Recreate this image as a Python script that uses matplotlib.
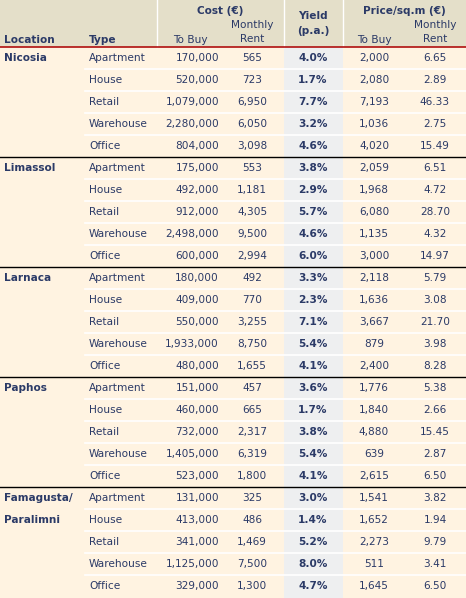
import matplotlib.pyplot as plt
from matplotlib.patches import Rectangle

locations = ['Nicosia', 'Limassol', 'Larnaca', 'Paphos', 'Famagusta/\nParalimni']
types = ['Apartment', 'House', 'Retail', 'Warehouse', 'Office']
cost_buy = [170000, 520000, 1079000, 2280000, 804000,
            175000, 492000, 912000, 2498000, 600000,
            180000, 409000, 550000, 1933000, 480000,
            151000, 460000, 732000, 1405000, 523000,
            131000, 413000, 341000, 1125000, 329000]
cost_rent = [565, 723, 6950, 6050, 3098,
             553, 1181, 4305, 9500, 2994,
             492, 770, 3255, 8750, 1655,
             457, 665, 2317, 6319, 1800,
             325, 486, 1469, 7500, 1300]
yields = [4.0, 1.7, 7.7, 3.2, 4.6,
          3.8, 2.9, 5.7, 4.6, 6.0,
          3.3, 2.3, 7.1, 5.4, 4.1,
          3.6, 1.7, 3.8, 5.4, 4.1,
          3.0, 1.4, 5.2, 8.0, 4.7]
sqm_buy = [2000, 2080, 7193, 1036, 4020,
           2059, 1968, 6080, 1135, 3000,
           2118, 1636, 3667, 879, 2400,
           1776, 1840, 4880, 639, 2615,
           1541, 1652, 2273, 511, 1645]
sqm_rent = [6.65, 2.89, 46.33, 2.75, 15.49,
            6.51, 4.72, 28.70, 4.32, 14.97,
            5.79, 3.08, 21.70, 3.98, 8.28,
            5.38, 2.66, 15.45, 2.87, 6.50,
            3.82, 1.94, 9.79, 3.41, 6.50]

W, H = 466, 598
HEAD = 47
ROW = 22
TXT = '#2b3a67'
FS = 7.6

fig = plt.figure(figsize=(W / 100, H / 100), dpi=100)
ax = fig.add_axes([0, 0, 1, 1])
ax.set_xlim(0, W)
ax.set_ylim(H, 0)
ax.axis('off')

ax.add_patch(Rectangle((0, 0), W, HEAD, color='#e4dfc9', lw=0))
ax.add_patch(Rectangle((0, HEAD), W, H - HEAD, color='#fff3e1', lw=0))
ax.add_patch(Rectangle((284, HEAD), 59, H - HEAD, color='#eeeff0', lw=0))
for x in [157, 284, 343]:
    ax.plot([x, x], [0, HEAD], color='white', lw=1)

kw = dict(color=TXT, fontsize=FS, fontfamily='DejaVu Sans')
ax.text(4, 40, 'Location', fontweight='bold', va='center', **kw)
ax.text(89, 40, 'Type', fontweight='bold', va='center', **kw)
ax.text(220, 11, 'Cost (€)', fontweight='bold', ha='center', va='center', **kw)
ax.text(190, 40, 'To Buy', ha='center', va='center', **kw)
ax.text(252, 25, 'Monthly', ha='center', va='center', **kw)
ax.text(252, 39, 'Rent', ha='center', va='center', **kw)
ax.text(313, 16, 'Yield', fontweight='bold', ha='center', va='center', **kw)
ax.text(313, 31, '(p.a.)', fontweight='bold', ha='center', va='center', **kw)
ax.text(404, 11, 'Price/sq.m (€)', fontweight='bold', ha='center', va='center', **kw)
ax.text(374, 40, 'To Buy', ha='center', va='center', **kw)
ax.text(435, 25, 'Monthly', ha='center', va='center', **kw)
ax.text(435, 39, 'Rent', ha='center', va='center', **kw)

for i in range(len(cost_buy)):
    y0 = HEAD + i * ROW
    yc = y0 + ROW / 2
    if i % 5 == 0:
        loc = locations[i // 5]
        if '\n' in loc:
            a, b = loc.split('\n')
            ax.text(4, yc, a, fontweight='bold', va='center', **kw)
            ax.text(4, yc + ROW, b, fontweight='bold', va='center', **kw)
        else:
            ax.text(4, yc, loc, fontweight='bold', va='center', **kw)
        if i > 0:
            ax.plot([0, W], [y0, y0], color='black', lw=1)
    else:
        ax.plot([85, W], [y0, y0], color='white', lw=1.2)
    ax.text(89, yc, types[i % 5], va='center', **kw)
    ax.text(219, yc, f'{cost_buy[i]:,}', ha='right', va='center', **kw)
    ax.text(252, yc, f'{cost_rent[i]:,}', ha='center', va='center', **kw)
    ax.text(313, yc, f'{yields[i]:.1f}%', fontweight='bold', ha='center', va='center', **kw)
    ax.text(374, yc, f'{sqm_buy[i]:,}', ha='center', va='center', **kw)
    ax.text(435, yc, f'{sqm_rent[i]:.2f}', ha='center', va='center', **kw)

ax.plot([0, W], [HEAD, HEAD], color='#b01010', lw=1.2)

fig.savefig('out.png', dpi=100)
